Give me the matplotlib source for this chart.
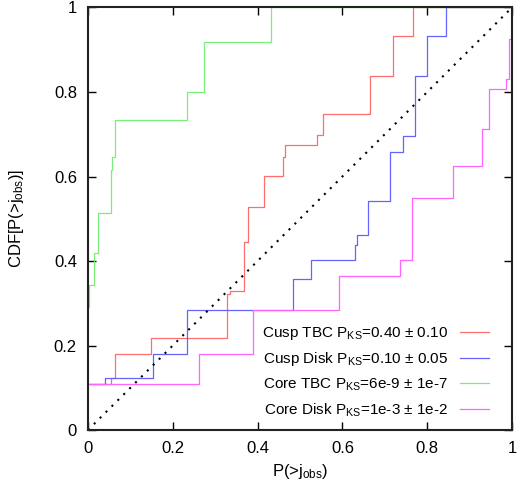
import numpy as np
import matplotlib.pyplot as plt
from matplotlib.ticker import FormatStrFormatter

plt.rcParams['font.family'] = ['Liberation Sans', 'DejaVu Sans']
plt.rcParams['mathtext.fontset'] = 'custom'
plt.rcParams['mathtext.rm'] = 'Liberation Sans'
plt.rcParams['mathtext.it'] = 'Liberation Sans:italic'

# step positions (x) and CDF level after each step
cusp_tbc_x = [0.0, 0.054, 0.064, 0.149, 0.329, 0.335, 0.368, 0.378, 0.416,
              0.461, 0.465, 0.541, 0.555, 0.665, 0.720, 0.767]
cusp_tbc_y = [0.108, 0.122, 0.181, 0.218, 0.321, 0.329, 0.446, 0.528, 0.601,
              0.645, 0.675, 0.698, 0.748, 0.837, 0.933, 1.0]

cusp_disk_x = [0.0, 0.039, 0.154, 0.234, 0.484, 0.527, 0.630, 0.634, 0.661,
               0.712, 0.744, 0.771, 0.799, 0.844]
cusp_disk_y = [0.108, 0.122, 0.181, 0.284, 0.357, 0.402, 0.438, 0.462, 0.542,
               0.659, 0.697, 0.837, 0.933, 1.0]

core_tbc_x = [0.0, 0.002, 0.015, 0.024, 0.055, 0.057, 0.063, 0.234, 0.274, 0.432]
core_tbc_y = [0.29, 0.343, 0.419, 0.514, 0.615, 0.645, 0.734, 0.80, 0.918, 1.0]

core_disk_x = [0.0, 0.262, 0.388, 0.593, 0.737, 0.765, 0.860, 0.930, 0.946,
               0.986, 0.994, 1.0]
core_disk_y = [0.108, 0.181, 0.284, 0.365, 0.402, 0.548, 0.625, 0.712, 0.807,
               0.830, 0.925, 1.0]

labels = [u'Cusp TBC P$_{\\rm KS}$=0.40 \u00b1 0.10',
          u'Cusp Disk P$_{\\rm KS}$=0.10 \u00b1 0.05',
          u'Core TBC P$_{\\rm KS}$=6e-9 \u00b1 1e-7',
          u'Core Disk P$_{\\rm KS}$=1e-3 \u00b1 1e-2']
colors = ['#ff6e6e', '#6464ff', '#78f078', '#ff64ff']

fig = plt.figure(figsize=(5.21, 4.90), dpi=100)
ax = fig.add_axes([0.1689, 0.1224, 0.8138, 0.8623])

series = [(cusp_tbc_x, cusp_tbc_y), (cusp_disk_x, cusp_disk_y),
          (core_tbc_x, core_tbc_y), (core_disk_x, core_disk_y)]
for (x, y), lab, c in zip(series, labels, colors):
    x = np.append(x, 1.0)
    y = np.append(y, y[-1])
    ax.step(x, y, where='post', color=c, lw=0.9, label=lab)

# diagonal reference
ax.plot([0, 1], [0, 1], color='black', lw=1.5, linestyle=(0, (1, 3)))

ax.set_xlim(0, 1)
ax.set_ylim(0, 1)
ax.set_xticks(np.arange(0, 1.01, 0.2))
ax.set_yticks(np.arange(0, 1.01, 0.2))
ax.xaxis.set_major_formatter(FormatStrFormatter('%g'))
ax.yaxis.set_major_formatter(FormatStrFormatter('%g'))
ax.tick_params(direction='in', length=6, width=1, top=True, right=True,
               labelsize=12, pad=8)
for s in ax.spines.values():
    s.set_linewidth(1.5)
    s.set_color('#222222')

ax.set_xlabel(r'P(>j$_{\rm obs}$)', fontsize=12, labelpad=4)
ax.set_ylabel(r'CDF[P(>j$_{\rm obs}$)]', fontsize=12, labelpad=20)

ax.legend(loc='lower right', bbox_to_anchor=(0.946, 0.026), frameon=False,
          markerfirst=False, fontsize=11, handlelength=1.9,
          handletextpad=0.8, labelspacing=0.55, borderpad=0,
          borderaxespad=0)

plt.savefig('out.png', dpi=100)
